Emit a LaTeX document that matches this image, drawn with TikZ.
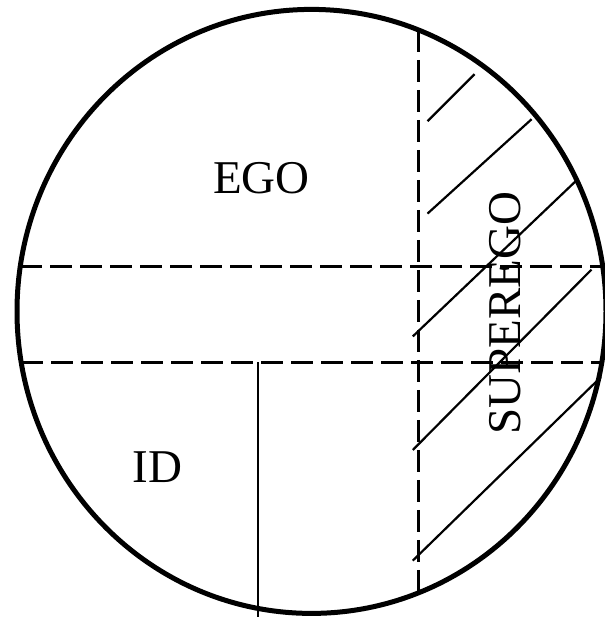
\documentclass[tikz,border=0pt]{standalone}
\usepackage{fontspec}
\setmainfont{Liberation Serif}
\begin{document}
\begin{tikzpicture}[x=1pt, y=-1pt,
  rim/.style={line width=5pt},
  split/.style={line width=3pt,dash pattern=on 22pt off 8pt},
  hatch/.style={line width=2.2pt},
  lbl/.style={inner sep=0pt,font=\fontsize{47}{50}\selectfont}]
\useasboundingbox (0,0) rectangle (605,619);
% outer circle
\draw[rim] (311.5,311.4) ellipse [x radius=294.5, y radius=302];
% dashed dividers
\draw[split] (20.3,266) -- (603,266);
\draw[split] (21.2,362) -- (602,362);
\draw[split] (418,29.8) -- (418,596);
\draw[hatch] (258,362) -- (258,617);
% superego hatching
\draw[hatch] (427.5,121.2) -- (474.5,74.2);
\draw[hatch] (427.5,213.6) -- (531.6,119.2);
\draw[hatch] (412.8,336.4) -- (576.5,180.4);
\draw[hatch] (412.8,450) -- (591.5,269.6);
\draw[hatch] (412.8,560.6) -- (601,377);
% labels
\node[lbl] (ego) at (261.5,178) {EGO};
\node[lbl] (id) at (157.5,467) {ID};
\node[lbl,rotate=90] (superego) at (505.5,313) {SUPEREGO};
\end{tikzpicture}
\end{document}
